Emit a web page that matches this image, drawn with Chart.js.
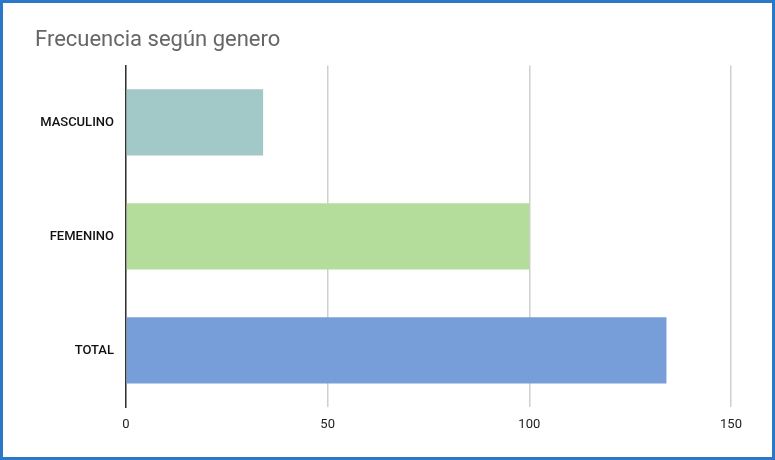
<!DOCTYPE html>
<html>
<head>
<meta charset="utf-8">
<script src="https://cdn.jsdelivr.net/npm/chart.js@4"></script>
<style>
  html,body{margin:0;padding:0;background:#fff;}
  #wrap{width:775px;height:460px;box-sizing:border-box;border:3px solid #2b78c8;position:relative;}
</style>
</head>
<body>
<div id="wrap"><canvas id="chartGenero" width="769" height="454"></canvas></div>
<script>
// ── data ──
const categories = ['MASCULINO', 'FEMENINO', 'TOTAL'];
const values = [34, 100, 134];
const barColors = ['#a2c9c8', '#b4dd9c', '#789ed9'];
const xTicks = [0, 50, 100, 150];

new Chart(document.getElementById('chartGenero').getContext('2d'), {
  type: 'bar',
  data: {
    labels: categories,
    datasets: [{
      data: values,
      backgroundColor: barColors,
      borderWidth: 0,
      barPercentage: 0.58,
      categoryPercentage: 1,
    }]
  },
  options: {
    indexAxis: 'y',
    responsive: false,
    animation: false,
    layout: { padding: { left: 32, right: 41, bottom: 14 } },
    plugins: {
      legend: { display: false },
      tooltip: { enabled: false },
      title: {
        display: true, text: 'Frecuencia según genero', align: 'start',
        color: '#666', font: { family: 'Roboto, sans-serif', size: 22, weight: 'normal' },
        padding: { top: 24, bottom: 12 },
      }
    },
    scales: {
      x: {
        min: 0, max: 150,
        afterBuildTicks: ax => { ax.ticks = xTicks.map(v => ({ value: v })); },
        grid: { color: '#cfcfcf', lineWidth: 1.5, drawTicks: false },
        border: { display: false },
        ticks: { color: '#222', padding: 10, font: { family: 'Roboto, sans-serif', size: 13 } },
      },
      y: {
        afterFit: ax => { ax.width = 91; },
        grid: { display: false },
        border: { display: true, color: '#333', width: 1.5 },
        ticks: { color: '#111', padding: 4, font: { family: 'Roboto, sans-serif', size: 13, weight: '500' } },
      }
    }
  }
});
</script>
</body>
</html>
